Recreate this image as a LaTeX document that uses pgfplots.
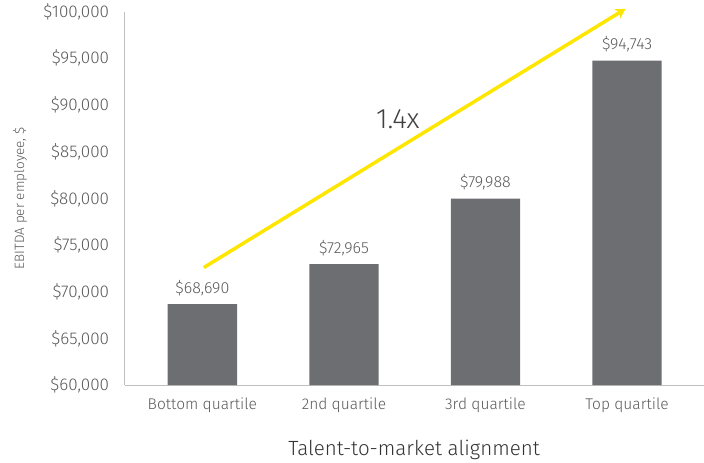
\documentclass[border=0pt]{standalone}
\usepackage{pgfplots}
\pgfplotsset{compat=1.18}
\usetikzlibrary{arrows.meta}
\usepackage{fontspec}
\setmainfont{Fira Sans Light}
\definecolor{bargrey}{HTML}{6D6E71}
\definecolor{txtgrey}{HTML}{595959}
\definecolor{eyyellow}{HTML}{FFE600}
\begin{document}
\begin{tikzpicture}
\begin{axis}[
    scale only axis,
    width=578pt, height=373pt,
    xmin=-0.55, xmax=3.54,
    ymin=60000, ymax=100000,
    ytick={60000,65000,...,100000},
    scaled y ticks=false,
    xtick={0,1,2,3},
    xticklabels={Bottom quartile,2nd quartile,3rd quartile,Top quartile},
    axis lines*=left,
    axis line style={draw=black!25, line width=1pt},
    major tick length=0pt,
    /pgf/number format/assume math mode=true,
    yticklabel={\$\pgfmathprintnumber[fixed,precision=0,1000 sep={,}]{\tick}},
    yticklabel style={font=\fontsize{17}{18}\selectfont, text=txtgrey, xshift=-12pt},
    xticklabel style={font=\fontsize{15.5}{16}\selectfont, text=txtgrey, yshift=-9pt},
    ylabel={EBITDA per employee, \$},
    ylabel style={font=\fontsize{13.5}{14}\selectfont, text=txtgrey, inner ysep=13pt, yshift=0pt},
    xlabel={Talent-to-market alignment},
    xlabel style={font=\fontsize{20.5}{21}\selectfont, text=black!80, yshift=-20pt},
    clip=false,
    ]
\addplot[ybar, bar width=0.49, fill=bargrey, draw=none,
    nodes near coords={\$\pgfmathprintnumber[fixed,precision=0,1000 sep={,}]{\pgfplotspointmeta}},
    nodes near coords style={font=\fontsize{16}{17}\selectfont, text=txtgrey, yshift=5pt}]
    coordinates {(0,68690) (1,72965) (2,79988) (3,94743)};
\addplot[eyyellow, line width=3.5pt, -{Stealth[length=10pt,width=11pt]}]
    coordinates {(0.01,72600) (2.99,100300)};
\node[font=\fontsize{28}{29}\selectfont, text=black!75] at (axis cs:1.38,88500) {1.4x};
\end{axis}
\end{tikzpicture}
\end{document}
